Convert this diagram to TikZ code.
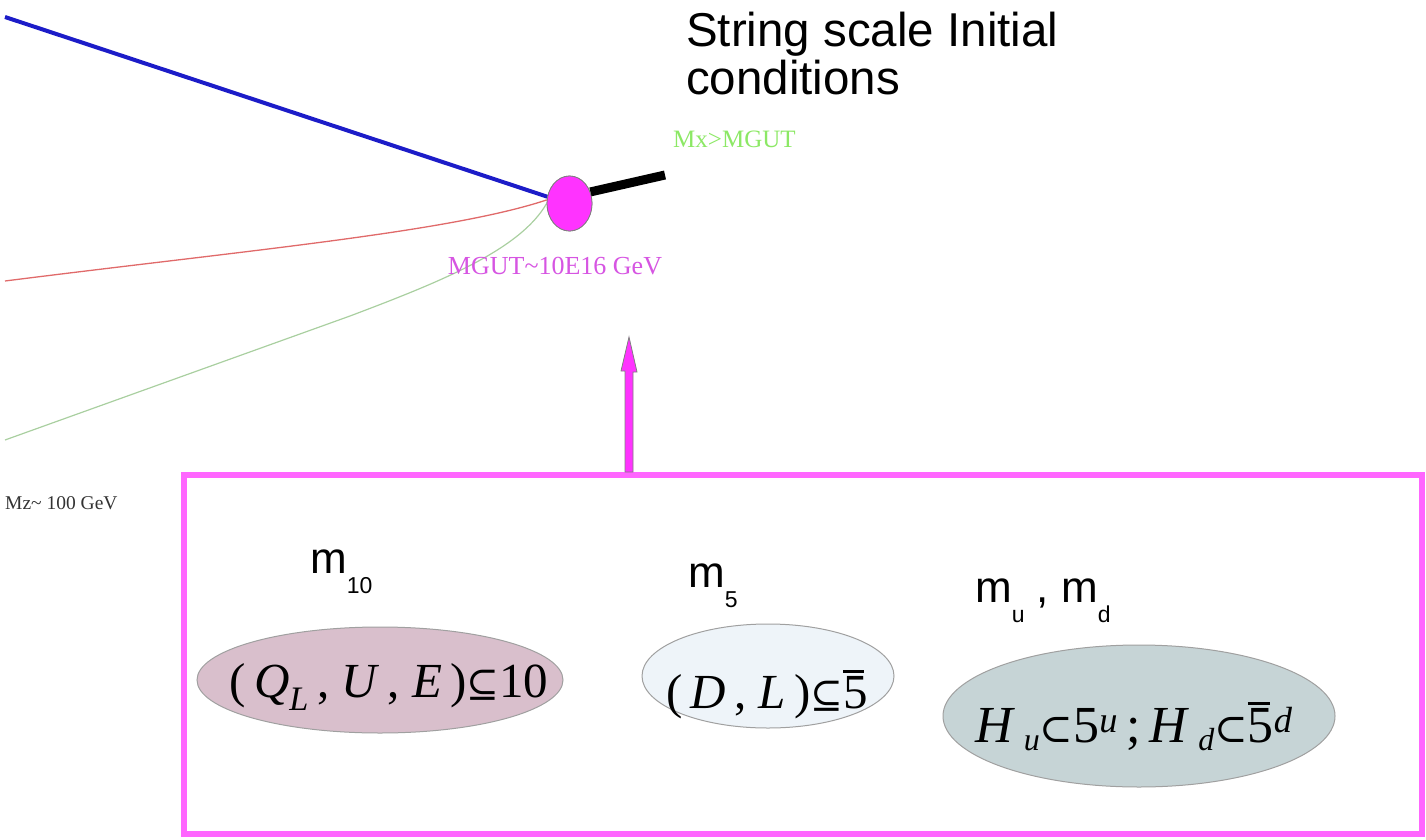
\documentclass[tikz,border=0pt]{standalone}
\usepackage{fontspec}
\setmainfont{Liberation Serif}
\setsansfont{Liberation Sans}
\newfontfamily\symf{DejaVu Serif}
\usetikzlibrary{shapes.geometric}
\definecolor{mag}{HTML}{FF33FF}
\definecolor{boxmag}{HTML}{FF66FF}
\definecolor{lineblue}{HTML}{1C1CC8}
\definecolor{linered}{HTML}{E06A6A}
\definecolor{linegreen}{HTML}{A9CFA0}
\definecolor{mxgreen}{HTML}{8CE865}
\definecolor{gutviolet}{HTML}{D655E2}
\definecolor{ellA}{HTML}{D9BFCC}
\definecolor{ellB}{HTML}{EEF4F9}
\definecolor{ellC}{HTML}{C6D4D6}
\definecolor{edgegray}{HTML}{A0A0A0}
\newcommand\msub[1]{\raisebox{-20pt}{\fontsize{23}{23}\selectfont #1}}
\newcommand\isub[1]{\raisebox{-8pt}{\fontsize{32}{32}\selectfont\textit{#1}}}
\newcommand\mysubeq{{\symf\fontsize{39}{39}\selectfont ⊆}}
\newcommand\mysubset{{\symf\fontsize{40}{40}\selectfont ⊂}}
\newcommand\fivebar{\rlap{\raisebox{0.72em}{\rule{0.42em}{0.05em}}}5}
\tikzset{
  serifsmall/.style={font=\fontsize{#1}{#1}\selectfont, inner sep=0pt},
  mlab/.style={font=\sffamily\fontsize{44}{44}\selectfont, inner sep=0pt, anchor=base west},
  titlelab/.style={font=\sffamily\fontsize{47.5}{48}\selectfont, inner sep=0pt, anchor=base west},
  blob/.style={ellipse, draw=edgegray, line width=1pt, inner sep=0pt},
  formula/.style={font=\fontsize{#1}{#1}\selectfont, inner sep=0pt, anchor=base}
}
\begin{document}
\begin{tikzpicture}[x=1pt,y=-1pt]
\useasboundingbox (0,0) rectangle (1426,840);
% GUT point
\node[ellipse, fill=mag, draw=gray, line width=0.8pt, minimum width=45pt, minimum height=55pt, inner sep=0pt] (gut) at (569.5,203.5) {};
\coordinate (blueL) at (5,17);
\coordinate (redL) at (5,281);
\coordinate (greenL) at (5,440);
\coordinate (mx) at (665,175);
\draw[lineblue, line width=4pt] (blueL) -- (gut.163);
\draw[linered, line width=1.3pt] (redL) .. controls (250,250) and (450,232) .. (gut.171);
\draw[linegreen, line width=1.2pt] (greenL) -- (350,316) .. controls (440,282) and (520,250) .. (gut.180);
\draw[black, line width=9pt] (gut.29) -- (mx);
\node[ellipse, fill=mag, draw=gray, line width=0.8pt, minimum width=45pt, minimum height=55pt, inner sep=0pt] at (gut.center) {};
% labels
\node[serifsmall=25, text=mxgreen, anchor=base west] (mxl) at (673,147) {Mx>MGUT};
\node[serifsmall=26, text=gutviolet, anchor=base] (gutl) at (555,274) {MGUT\textasciitilde 10E16 GeV};
\node[serifsmall=19.5, text=black!80, anchor=base west] (mz) at (5,509) {Mz\textasciitilde\ 100 GeV};
\node[titlelab] (title1) at (686,47) {String scale Initial};
\node[titlelab] (title2) at (686,95) {conditions};
% box
\node[draw=boxmag, line width=6pt, minimum width=1238pt, minimum height=359pt, inner sep=0pt] (box) at (803,654.5) {};
\coordinate (tip) at (629,337);
\filldraw[fill=mag, draw=gray, line width=0.8pt] (tip) -- ++(8,35) -- ++(-4,0) -- (box.north -| 633,0) -- (box.north -| 625,0) -- ++(0,-101) -- ++(-4,0) -- cycle;
% m labels
\node[mlab] (m10) at (310,573) {m\msub{10}};
\node[mlab] (m5) at (688,587) {m\msub{5}};
\node[mlab] (mud) at (975,602) {m\msub{u} , m\msub{d}};
% ellipses
\node[blob, fill=ellA, minimum width=366pt, minimum height=106pt] (e1) at (380,680) {};
\node[blob, fill=ellB, minimum width=252pt, minimum height=104pt] (e2) at (768,676) {};
\node[blob, fill=ellC, minimum width=392pt, minimum height=142pt] (e3) at (1139,716) {};
\node[formula=49] (t1) at (389,697) {(\,\textit{Q}\textsubscript{\textit{L}}\,, \textit{U}\,, \textit{E}\,)\mysubeq10};
\node[formula=49] (t2) at (767,708) {(\,\textit{D}\,, \textit{L}\,)\mysubeq\fivebar};
\node[formula=52] (t3) at (1134,742) {\textit{H}\,\isub{u}\mysubset5\textsuperscript{\textit{u}}\,;\,\textit{H}\,\isub{d}\mysubset\fivebar\textsuperscript{\textit{d}}};
\end{tikzpicture}
\end{document}
